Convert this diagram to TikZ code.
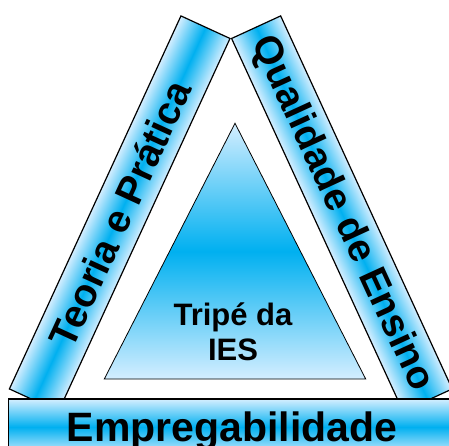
\documentclass[tikz,border=0pt]{standalone}
\usepackage{fontspec}
\setmainfont{Liberation Sans}
\definecolor{iesblue}{RGB}{0,176,240}
\definecolor{ieslight}{RGB}{212,238,255}
\begin{document}
\begin{tikzpicture}[x=1pt,y=-1pt,
  blueshade/.style={top color=ieslight, bottom color=ieslight, middle color=iesblue},
  shadedbox/.style={draw=black, line width=1.2pt, blueshade, inner sep=0pt},
  bar/.style={draw=black, line width=1.2pt, inner sep=0pt, minimum width=410.6pt, minimum height=54pt, font=\fontsize{39}{39}\selectfont\bfseries},
  big/.style={font=\fontsize{41}{41}\selectfont\bfseries, inner sep=0pt},
  mid/.style={font=\fontsize{31}{31}\selectfont\bfseries, inner sep=0pt}]
\useasboundingbox (0,0) rectangle (449,445);
\clip (0,0) rectangle (449,445);
% shading of the two slanted bars
\begin{scope}[transform canvas={shift={(119.7,213.7)}, rotate=65.3}]
  \shade[blueshade] (-205.3,-27) rectangle (205.3,27);
\end{scope}
\begin{scope}[transform canvas={shift={(341.9,213.7)}, rotate=-65.3}]
  \shade[blueshade] (-205.3,-27) rectangle (205.3,27);
\end{scope}
\node[bar, rotate=65.3] (tp) at (119.7,213.7) {Teoria e Prática};
\node[bar, rotate=-65.3] (qe) at (341.9,213.7) {Qualidade de Ensino};
% inner triangle
\shade[draw=black, line width=0.8pt, blueshade]
  (235,123.3) -- (104.3,379) -- (365.7,379) -- cycle;
\node[mid, anchor=base] (ies1) at (233,325) {Tripé da};
\node[mid, anchor=base] (ies2) at (233,360) {IES};
% bottom bar
\node[shadedbox, minimum width=451.7pt, minimum height=56pt] (empbar) at (234.15,427) {};
\node[big, anchor=base] (emp) at (232,441.5) {Empregabilidade};
\end{tikzpicture}
\end{document}
